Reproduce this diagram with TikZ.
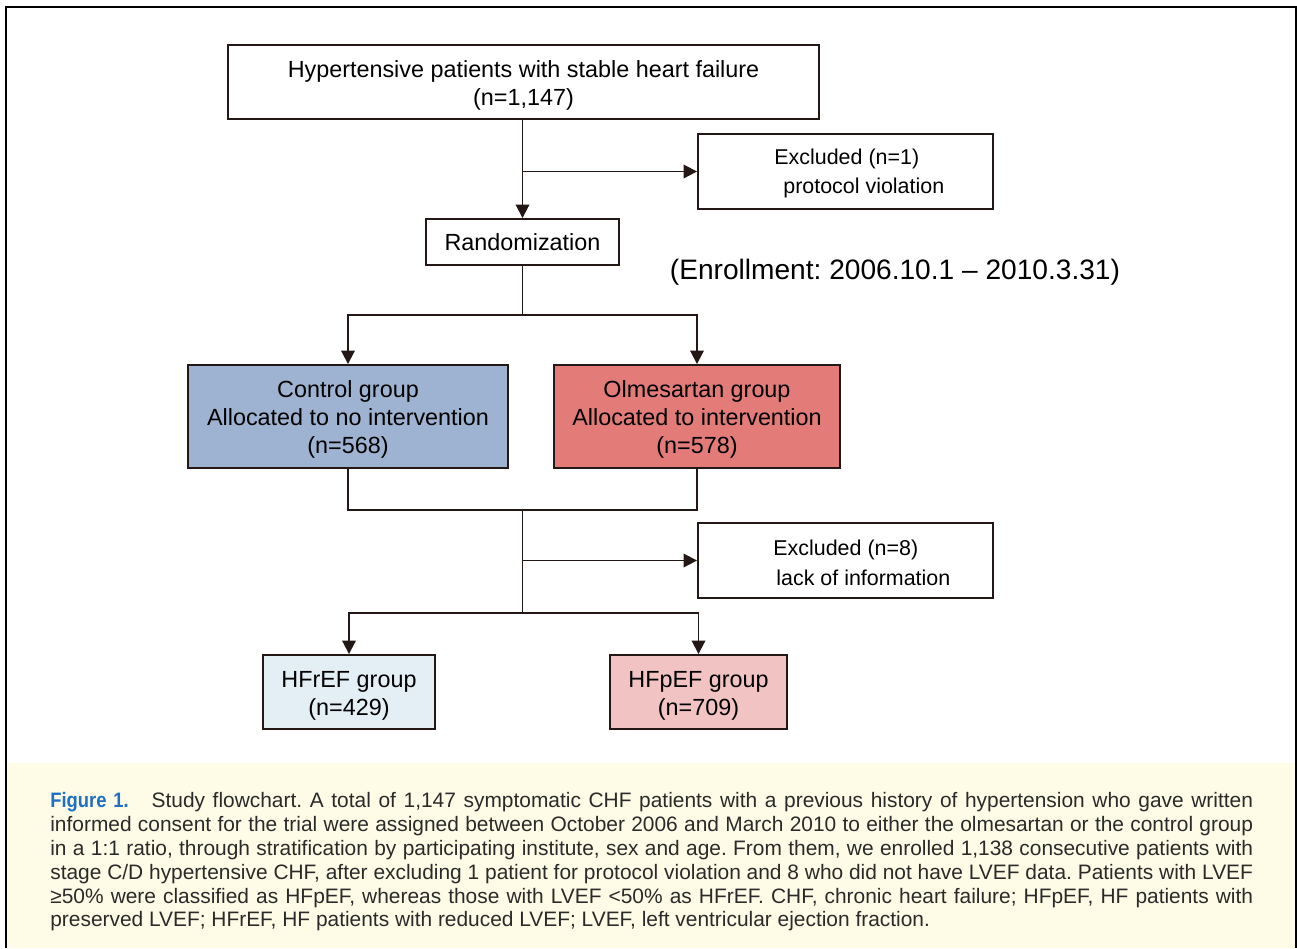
\documentclass[tikz,border=0pt]{standalone}
\usepackage{fontspec}
\setmainfont{Liberation Sans}
\usetikzlibrary{arrows.meta}
\definecolor{linecol}{HTML}{231815}
\definecolor{ctrlblue}{HTML}{9EB3D1}
\definecolor{olmered}{HTML}{E37C78}
\definecolor{hfrblue}{HTML}{E3EEF5}
\definecolor{hfppink}{HTML}{F2C3C3}
\definecolor{capbg}{HTML}{FEFCE6}
\definecolor{figblue}{HTML}{1F6FC2}
\definecolor{captext}{HTML}{2A2A2A}
\newcommand{\topgap}{\rule{0pt}{13.3pt}}
\frenchspacing
\begin{document}
\begin{tikzpicture}[x=0.02cm, y=-0.02cm,
    box/.style={draw=linecol, line width=1.1pt, align=center, inner sep=0pt,
        font=\fontsize{13.3}{15.9}\selectfont},
    conn/.style={draw=linecol, line width=1.1pt},
    arr/.style={conn, -{Triangle[length=0.27cm, width=0.27cm]}},
    exctext/.style={anchor=west, align=left, inner sep=0pt,
        font=\fontsize{12.2}{17}\selectfont}]
    \useasboundingbox (0,0) rectangle (1297,948);

    % Caption background and frame
    \fill[capbg] (7,763) rectangle (1295,948);
    \draw[line width=1.5pt] (6,948) -- (6,7) -- (1296,7) -- (1296,948);

    % Boxes
    \node[box, minimum width=11.82cm, minimum height=1.48cm] (top) at (523.5,82)
        {\topgap Hypertensive patients with stable heart failure\\(n=1,147)};
    \node[box, minimum width=5.9cm, minimum height=1.5cm] (exc1) at (845.5,171.5) {};
    \node[exctext] (exc1text) at ([xshift=1.54cm, yshift=-0.04cm]exc1.west)
        {Excluded (n=1)\\\hspace{5.1pt}protocol violation};
    \node[box, minimum width=3.86cm, minimum height=0.92cm] (rand) at (522.5,242) {Randomization};
    \node[font=\fontsize{16.0}{19}\selectfont, inner sep=0pt] (enroll) at (895,272)
        {(Enrollment: 2006.10.1 -- 2010.3.31)};
    \node[box, fill=ctrlblue, minimum width=6.4cm, minimum height=2.06cm] (control) at (348,416.5)
        {\topgap Control group\\Allocated to no intervention\\(n=568)};
    \node[box, fill=olmered, minimum width=5.72cm, minimum height=2.06cm] (olme) at (697,416.5)
        {\topgap Olmesartan group\\Allocated to intervention\\(n=578)};
    \node[box, minimum width=5.9cm, minimum height=1.5cm] (exc2) at (845.5,560.5) {};
    \node[exctext] (exc2text) at ([xshift=1.52cm, yshift=-0.04cm]exc2.west)
        {Excluded (n=8)\\\hspace{1.7pt}lack of information};
    \node[box, fill=hfrblue, minimum width=3.44cm, minimum height=1.48cm] (hfr) at (349,692)
        {\topgap HFrEF group\\(n=429)};
    \node[box, fill=hfppink, minimum width=3.54cm, minimum height=1.48cm] (hfp) at (698.5,692)
        {\topgap HFpEF group\\(n=709)};

    % Connectors
    \coordinate (split1) at (522.5,315);
    \coordinate (join1) at (522.5,510);
    \coordinate (split2) at (522.5,613);
    \draw[arr] (rand.north |- top.south) -- (rand.north);
    \draw[arr] (rand.north |- exc1.west) -- (exc1.west);
    \draw[conn] (rand.south) -- (split1);
    \draw[arr] (split1) -| (control.north);
    \draw[arr] (split1) -| (olme.north);
    \draw[conn] (control.south) |- (join1);
    \draw[conn] (olme.south) |- (join1);
    \draw[conn] (join1) -- (split2);
    \draw[arr] (join1 |- exc2.west) -- (exc2.west);
    \draw[arr] (split2) -| (hfr.north);
    \draw[arr] (split2) -| (hfp.north);

    % Caption
    \node[anchor=north west, inner sep=0pt, text width=24.06cm, align=justify,
        text=captext, font=\fontsize{11.9}{13.6}\selectfont] (caption) at (50,792)
        {\textcolor{figblue}{\bfseries\addfontfeature{FakeStretch=0.88}Figure 1.}\hspace{1.1em}Study
        flowchart. A total of 1,147 symptomatic CHF patients with a previous history of hypertension
        who gave written\linebreak informed consent for the trial were assigned between October 2006
        and March 2010 to either the olmesartan or the control group\linebreak in a 1:1 ratio, through
        stratification by participating institute, sex and age. From them, we enrolled 1,138
        consecutive patients with\linebreak stage C/D hypertensive CHF, after excluding 1 patient for
        protocol violation and 8 who did not have LVEF data. Patients with LVEF\linebreak ≥50\% were
        classified as HFpEF, whereas those with LVEF <50\% as HFrEF. CHF, chronic heart failure;
        HFpEF, HF patients with\linebreak preserved LVEF; HFrEF, HF patients with reduced LVEF; LVEF,
        left ventricular ejection fraction.};
\end{tikzpicture}
\end{document}
